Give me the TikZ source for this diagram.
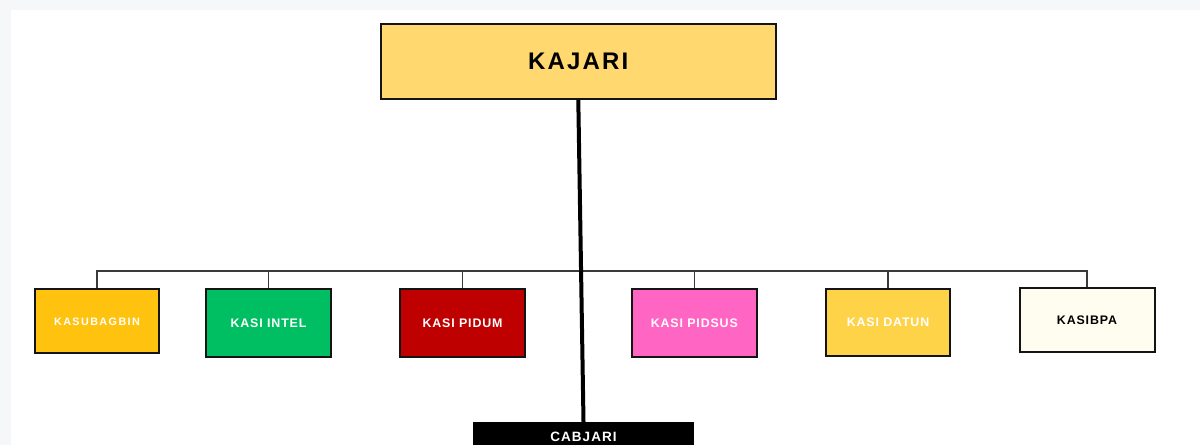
\documentclass[tikz,border=0pt]{standalone}
\usepackage{fontspec}
\setmainfont{Liberation Sans}
\definecolor{kajariY}{HTML}{FFD970}
\definecolor{subY}{HTML}{FFC20E}
\definecolor{intelG}{HTML}{00BF63}
\definecolor{pidumR}{HTML}{BF0000}
\definecolor{pidsusP}{HTML}{FF66C4}
\definecolor{datunY}{HTML}{FFD348}
\definecolor{bpaC}{HTML}{FFFCF0}
\definecolor{edgeK}{HTML}{141414}
\definecolor{busG}{HTML}{3A3A3A}
\definecolor{bgStrip}{HTML}{F6F7F9}
\begin{document}
\begin{tikzpicture}[x=1bp,y=-1bp,
  orgbox/.style={draw=edgeK, line width=2bp, rectangle, inner sep=0pt, align=center},
  smalltext/.style={font=\bfseries\fontsize{12.4bp}{14bp}\selectfont\addfontfeatures{LetterSpace=7}},
  bus/.style={draw=busG, line width=1.3bp},
  spine/.style={draw=black, line width=4bp}
]
\useasboundingbox (0,0) rectangle (1200,445);
\fill[white] (0,0) rectangle (1200,445);
\fill[bgStrip] (0,0) rectangle (1200,10);
\fill[bgStrip] (0,0) rectangle (11,445);

\node[orgbox, fill=kajariY, minimum width=395bp, minimum height=75bp,
  font=\bfseries\fontsize{24bp}{28bp}\selectfont\addfontfeatures{LetterSpace=9}]
  (kajari) at (578.3,61.5) {KAJARI};

\node[orgbox, fill=subY, minimum width=124bp, minimum height=64bp, text=white,
  font=\bfseries\fontsize{10.8bp}{12bp}\selectfont\addfontfeatures{LetterSpace=13}]
  (sub) at (97,321.5) {KASUBAGBIN};
\node[orgbox, fill=intelG, minimum width=125bp, minimum height=68bp, text=white, smalltext]
  (intel) at (268.5,323) {KASI INTEL};
\node[orgbox, fill=pidumR, minimum width=125bp, minimum height=68bp, text=white, smalltext]
  (pidum) at (462.5,323) {KASI PIDUM};
\node[orgbox, fill=pidsusP, minimum width=125bp, minimum height=68bp, text=white, smalltext]
  (pidsus) at (694.3,323) {KASI PIDSUS};
\node[orgbox, fill=datunY, minimum width=124bp, minimum height=67bp, text=white, smalltext]
  (datun) at (888,322.5) {KASI DATUN};
\node[orgbox, fill=bpaC, minimum width=135bp, minimum height=64bp, text=black, smalltext]
  (bpa) at (1087,320) {KASIBPA};

\node[fill=black, inner sep=0pt, minimum width=221bp, minimum height=30bp, text=white,
  font=\bfseries\fontsize{13.5bp}{15bp}\selectfont\addfontfeatures{LetterSpace=8}]
  (cabjari) at (583.5,437) {CABJARI};

\coordinate (busY) at (0,271);
\draw[bus] (sub.north) -- (sub.north |- busY) -- (bpa.north |- busY) -- (bpa.north);
\draw[bus] (intel.north) -- (intel.north |- busY);
\draw[bus] (pidum.north) -- (pidum.north |- busY);
\draw[bus] (pidsus.north) -- (pidsus.north |- busY);
\draw[bus] (datun.north) -- (datun.north |- busY);

\draw[spine] (kajari.south) -- (cabjari.north);
\end{tikzpicture}
\end{document}
